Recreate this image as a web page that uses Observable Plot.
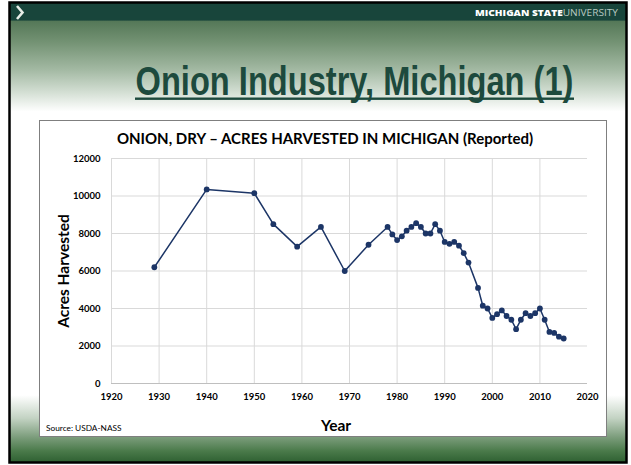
<!DOCTYPE html>
<html>
<head>
<meta charset="utf-8">
<script src="https://cdn.jsdelivr.net/npm/d3@7"></script>
<script src="https://cdn.jsdelivr.net/npm/@observablehq/plot@0.6"></script>
<style>
  html, body { margin: 0; padding: 0; background: #fff; }
  #slide { position: relative; width: 631px; height: 465px; overflow: hidden; background: #fff; font-family: Lato, "Open Sans", sans-serif; }
  #bg { position: absolute; left: 0; top: 0; }
  #chart { position: absolute; left: 40px; top: 121px; }
  .lbl { position: absolute; font-family: Lato, "Open Sans", sans-serif; color: #000; white-space: nowrap; }
</style>
</head>
<body>
<div id="slide">
  <svg id="bg" width="631" height="465" xmlns="http://www.w3.org/2000/svg">
    <defs>
      <linearGradient id="g" gradientUnits="userSpaceOnUse" x1="0" y1="0" x2="0" y2="465">
        <stop offset="0" stop-color="#18453b"/>
        <stop offset="0.043" stop-color="#18453b"/>
        <stop offset="0.046" stop-color="#557858"/>
        <stop offset="0.09" stop-color="#739273"/>
        <stop offset="0.15" stop-color="#a3b9a3"/>
        <stop offset="0.2" stop-color="#d5e0d5"/>
        <stop offset="0.24" stop-color="#ffffff"/>
        <stop offset="0.85" stop-color="#ffffff"/>
        <stop offset="0.9" stop-color="#c2d2c2"/>
        <stop offset="0.94" stop-color="#7c9d7c"/>
        <stop offset="0.97" stop-color="#4a7a4a"/>
        <stop offset="1" stop-color="#285a2c"/>
      </linearGradient>
    </defs>
    <rect x="9" y="2" width="618" height="461" fill="url(#g)"/>
    <rect x="9.5" y="2.5" width="617" height="460" fill="none" stroke="#000" stroke-width="2.5"/>
    <polyline points="17,6 22.5,12.5 17,19" fill="none" stroke="#e8eee8" stroke-width="2.6"/>
    <text x="618" y="16" text-anchor="end" font-family="'Open Sans', 'DejaVu Sans', sans-serif" font-size="9.5" fill="#ffffff" textLength="143" lengthAdjust="spacingAndGlyphs"><tspan font-weight="800">MICHIGAN STATE</tspan><tspan font-weight="400" fill="#b9c9c2">UNIVERSITY</tspan></text>
    <text id="stitle" x="0" y="0" text-anchor="middle" font-family="'Liberation Sans Narrow', 'Arial Narrow', 'Liberation Sans', sans-serif" font-weight="bold" font-size="40" fill="#1d4a3d">Onion Industry, Michigan (1)</text>
    <rect x="135" y="97.5" width="439" height="2.4" fill="#1d4a3d"/>
    <rect x="39.5" y="120.5" width="567" height="316" fill="#fff" stroke="#7f7f7f" stroke-width="1"/>
  </svg>
  <div id="chart"></div>
  <div class="lbl" id="ctitle" style="left:0;width:650px;text-align:center;top:129px;font-size:15px;font-weight:700;">ONION, DRY – ACRES HARVESTED IN MICHIGAN (Reported)</div>
  <div class="lbl" style="left:63px;top:271px;font-size:15.5px;font-weight:700;transform:translate(-50%,-50%) rotate(-90deg);">Acres Harvested</div>
  <div class="lbl" style="left:336px;top:425px;font-size:15.5px;font-weight:700;transform:translate(-50%,-50%);">Year</div>
  <div class="lbl" style="left:46px;top:428px;font-size:8.3px;transform:translateY(-50%);">Source: USDA-NASS</div>
</div>
<script>
const years = [1929,1940,1950,1954,1959,1964,1969,1974,1978,1979,1980,1981,1982,1983,1984,1985,1986,1987,1988,1989,1990,1991,1992,1993,1994,1995,1997,1998,1999,2000,2001,2002,2003,2004,2005,2006,2007,2008,2009,2010,2011,2012,2013,2014,2015];
const acres = [6200,10350,10150,8500,7300,8350,6000,7400,8350,7950,7650,7850,8150,8350,8550,8350,8000,8000,8500,8150,7550,7450,7550,7350,6950,6450,5100,4150,4000,3500,3700,3900,3600,3400,2900,3400,3750,3600,3750,4000,3400,2750,2700,2500,2400];
const xTicks = [1920,1930,1940,1950,1960,1970,1980,1990,2000,2010,2020];
const yTicks = [0,2000,4000,6000,8000,10000,12000];

// fit the slide title to its width in the reference (a narrow bold face)
const st = document.getElementById("stitle");
const w = st.getBBox().width || 438;
st.setAttribute("transform", `translate(354.5,95) scale(${438 / w},1)`);

const data = years.map((y, i) => ({year: y, acres: acres[i]}));
const navy = "#1c3566";

const chart = Plot.plot({
  width: 567,
  height: 316,
  marginLeft: 71,
  marginRight: 20,
  marginTop: 37,
  marginBottom: 54,
  style: {fontFamily: "Lato, 'Open Sans', sans-serif", fontSize: "9.5px", fontWeight: "bold", color: "#000", background: "transparent"},
  x: {domain: [1920, 2020], label: null},
  y: {domain: [0, 12000], label: null},
  marks: [
    Plot.gridX(xTicks.slice(0, -1), {stroke: "#d9d9d9", strokeOpacity: 1}),
    Plot.gridY(yTicks, {stroke: "#d9d9d9", strokeOpacity: 1}),
    Plot.ruleY([0], {stroke: "#bfbfbf", strokeWidth: 1}),
    Plot.axisX(xTicks, {tickSize: 0, tickPadding: 10, tickFormat: d => String(d), fontWeight: "bold", fill: "#000"}),
    Plot.axisY(yTicks, {tickSize: 0, tickPadding: 11, tickFormat: d => String(d), fontWeight: "bold", fill: "#000"}),
    Plot.line(data, {x: "year", y: "acres", stroke: navy, strokeWidth: 1.5}),
    Plot.dot(data, {x: "year", y: "acres", r: 2.9, fill: navy, stroke: "none"})
  ]
});
document.getElementById("chart").appendChild(chart);
</script>
</body>
</html>
